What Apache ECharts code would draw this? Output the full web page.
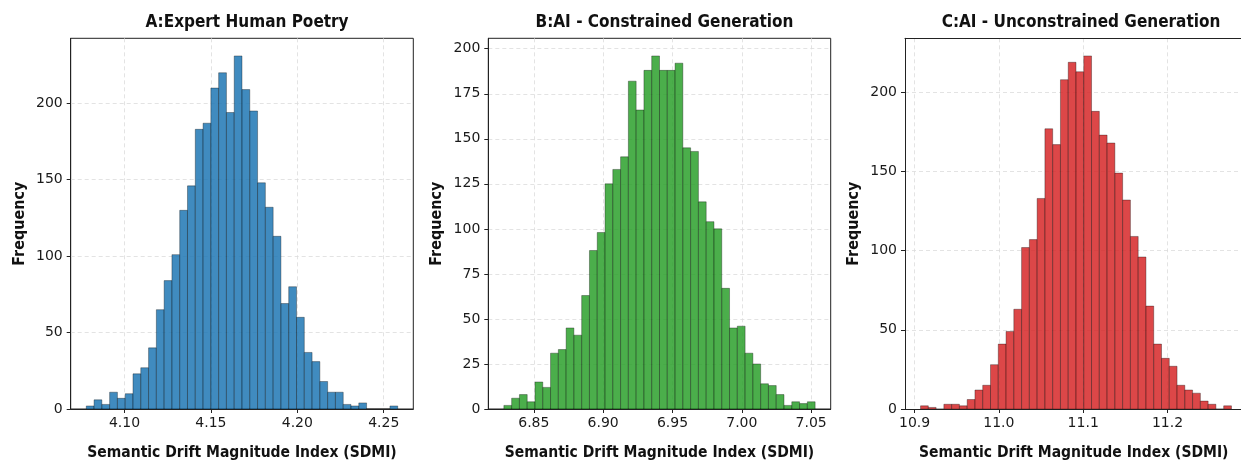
<!DOCTYPE html>
<html>
<head>
<meta charset="utf-8">
<script src="https://cdn.jsdelivr.net/npm/echarts@6/dist/echarts.min.js"></script>
<style>
  html, body { margin: 0; padding: 0; background: #fff; overflow: hidden; }
  #chart { width: 1241px; height: 461px; }
</style>
</head>
<body>
<div id="chart"></div>
<script>
// ---- Data ----
const panelTitles = ['A:Expert Human Poetry', 'B:AI - Constrained Generation', 'C:AI - Unconstrained Generation'];
const xAxisTitle = 'Semantic Drift Magnitude Index (SDMI)';
const yAxisTitle = 'Frequency';

// histogram counts (40 bins each)
const countsA = [2, 6, 3, 11, 7, 10, 23, 27, 40, 65, 84, 101, 130, 146, 183, 187, 210, 220, 194, 231,
                 209, 195, 148, 132, 113, 69, 80, 60, 37, 31, 18, 11, 11, 3, 2, 4, 0, 0, 0, 2];
const countsB = [2, 6, 8, 4, 15, 12, 31, 33, 45, 41, 63, 88, 98, 125, 133, 140, 182, 166, 188, 196,
                 188, 188, 192, 145, 143, 115, 104, 100, 67, 45, 46, 31, 25, 14, 13, 8, 2, 4, 3, 4];
const countsC = [2, 1, 0, 3, 3, 2, 6, 12, 15, 28, 41, 49, 63, 102, 107, 133, 177, 167, 208, 219,
                 213, 223, 188, 173, 168, 149, 132, 109, 96, 65, 41, 32, 27, 15, 12, 10, 5, 3, 0, 2];

// bin layout: first bin left edge and bin width
const binStartA = 4.0779, binWidthA = 0.004505;
const binStartB = 6.8284, binWidthB = 0.005612;
const binStartC = 10.9071, binWidthC = 0.009218;

// tick labels
const xTicksA = [4.10, 4.15, 4.20, 4.25];
const xTicksB = [6.85, 6.90, 6.95, 7.00, 7.05];
const xTicksC = [10.9, 11.0, 11.1, 11.2];
const yTicksA = [0, 50, 100, 150, 200];
const yTicksB = [0, 25, 50, 75, 100, 125, 150, 175, 200];
const yTicksC = [0, 50, 100, 150, 200];
const xDecimalsA = 2, xDecimalsB = 2, xDecimalsC = 1;

// ---- Build chart ----
const chart = echarts.init(document.getElementById('chart'), null, { renderer: 'canvas' });

const canvasW = 1241;
const panels = [
  { title: panelTitles[0], counts: countsA, start: binStartA, width: binWidthA, xt: xTicksA, yt: yTicksA, dec: xDecimalsA,
    fill: 'rgba(31,119,180,0.85)', left: 70.7, gw: 342.6 },
  { title: panelTitles[1], counts: countsB, start: binStartB, width: binWidthB, xt: xTicksB, yt: yTicksB, dec: xDecimalsB,
    fill: 'rgba(44,160,44,0.85)', left: 488.3, gw: 342.4 },
  { title: panelTitles[2], counts: countsC, start: binStartC, width: binWidthC, xt: xTicksC, yt: yTicksC, dec: xDecimalsC,
    fill: 'rgba(214,39,40,0.85)', left: 905, gw: 342 }
];

const gridTop = 38.3, gridH = 370.7;
const tickFont = 'DejaVu Sans';
const boldFont = 'DejaVu Sans Condensed, DejaVu Sans';
const spineColor = '#222';
const gridLine = { show: true, lineStyle: { color: '#dcdcdc', type: [4, 3], width: 0.8 } };

const option = { animation: false, backgroundColor: '#fff', title: [], grid: [], xAxis: [], yAxis: [], series: [] };

panels.forEach((p, i) => {
  const n = p.counts.length;
  const lo = p.start, hi = p.start + n * p.width;
  const pad = (hi - lo) * 0.05;
  const xmin = lo - pad;
  let xmax = hi + pad;
  // the last panel runs past the right edge of the picture: show only the visible part
  let visW = p.gw;
  const cut = p.left + p.gw > canvasW;
  if (cut) {
    visW = canvasW + 1.5 - p.left;
    xmax = xmin + (xmax - xmin) * visW / p.gw;
  }
  const ymax = Math.max(...p.counts) * 1.05;
  const data = p.counts.map((c, k) => [p.start + k * p.width, p.start + (k + 1) * p.width, c]);

  option.title.push({
    text: p.title, left: p.left + p.gw / 2, top: 9, textAlign: 'center',
    textStyle: { fontFamily: boldFont, fontWeight: 'bold', fontSize: 17, color: '#111' }
  });
  option.grid.push({
    left: p.left, top: gridTop, width: visW, height: gridH,
    outerBoundsMode: 'none', containLabel: false,
    show: !cut, borderColor: spineColor, borderWidth: 1, backgroundColor: 'transparent'
  });
  option.xAxis.push({
    type: 'value', gridIndex: i, min: xmin, max: xmax,
    name: xAxisTitle, nameLocation: 'middle', nameGap: 36,
    nameTextStyle: { fontFamily: boldFont, fontWeight: 'bold', fontSize: 15.5, color: '#111' },
    axisLine: { show: true, onZero: false, lineStyle: { color: spineColor, width: 1 } },
    axisTick: { show: true, length: 4, customValues: p.xt, lineStyle: { color: spineColor } },
    axisLabel: { customValues: p.xt, margin: 7, fontFamily: tickFont, fontSize: 14, color: '#1a1a1a',
                 formatter: v => Number(v).toFixed(p.dec) },
    splitLine: gridLine
  });
  option.yAxis.push({
    type: 'value', gridIndex: i, min: 0, max: ymax,
    name: yAxisTitle, nameLocation: 'middle', nameGap: 43,
    nameTextStyle: { fontFamily: boldFont, fontWeight: 'bold', fontSize: 16, color: '#111' },
    axisLine: { show: true, lineStyle: { color: spineColor, width: 1 } },
    axisTick: { show: true, length: 4, customValues: p.yt, lineStyle: { color: spineColor } },
    axisLabel: { customValues: p.yt, margin: 8, fontFamily: tickFont, fontSize: 14, color: '#1a1a1a' },
    splitLine: gridLine
  });
  option.series.push({
    type: 'custom', xAxisIndex: i, yAxisIndex: i, data: data, clip: true,
    renderItem: (params, api) => {
      const a = api.coord([api.value(0), api.value(2)]);
      const b = api.coord([api.value(1), 0]);
      return {
        type: 'rect',
        shape: { x: a[0], y: a[1], width: b[0] - a[0], height: b[1] - a[1] },
        style: { fill: p.fill, stroke: 'rgba(0,0,0,0.55)', lineWidth: 0.6 }
      };
    }
  });
});

// top spine for the cut-off panel (its right spine lies outside the picture)
panels.forEach((p, i) => {
  if (p.left + p.gw > canvasW) {
    option.xAxis.push({
      type: 'value', gridIndex: i, position: 'top', min: option.xAxis[i].min, max: option.xAxis[i].max,
      axisLine: { show: true, onZero: false, lineStyle: { color: spineColor, width: 1 } },
      axisTick: { show: false }, axisLabel: { show: false }, splitLine: { show: false }
    });
  }
});

chart.setOption(option);
</script>
</body>
</html>
